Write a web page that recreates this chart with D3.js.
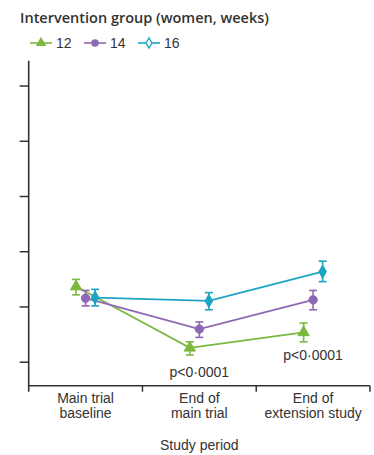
<!DOCTYPE html>
<html>
<head>
<meta charset="utf-8">
<script src="https://cdn.jsdelivr.net/npm/d3@7"></script>
<style>
  body { margin: 0; background: #fff; }
  svg { display: block; font-family: 'Liberation Sans', Arial, sans-serif; }
</style>
</head>
<body>
<svg id="vis_svg" width="374" height="455"></svg>
<script>
// study periods along the x axis
const periods = ['base', 'end', 'ext'];
const periodLabels = [['Main trial', 'baseline'], ['End of', 'main trial'], ['End of', 'extension study']];

// groups (weeks)
const groups = ['12', '14', '16'];
const colors = ['#7cb83e', '#8d68b4', '#1ba5c2'];

// means and error limits (arbitrary unlabeled units)
const mean12 = [23.6, 12.5, 15.3];
const lo12 = [22.1, 11.2, 13.6];
const hi12 = [24.9, 13.6, 17.0];

const mean14 = [21.5, 15.9, 21.2];
const lo14 = [20.1, 14.4, 19.4];
const hi14 = [22.9, 17.2, 22.9];

const mean16 = [21.6, 21.0, 26.3];
const lo16 = [20.1, 19.4, 24.5];
const hi16 = [23.1, 22.5, 28.2];

const yTicks = [10, 20, 30, 40, 50, 60];
const pLabels = [null, 'p<0·0001', 'p<0·0001'];

const series = [
  { key: '12', mean: mean12, lo: lo12, hi: hi12, shape: d3.symbolTriangle },
  { key: '14', mean: mean14, lo: lo14, hi: hi14, shape: d3.symbolCircle },
  { key: '16', mean: mean16, lo: lo16, hi: hi16, shape: d3.symbolDiamond },
];

const svg = d3.select('#vis_svg');
const margin = { left: 28.7, right: 4, top: 60.7, bottom: 69.3 };
const width = 374, height = 455;

const x = d3.scaleBand().domain(periods).range([margin.left, width - margin.right]).padding(0);
const dodge = d3.scalePoint().domain(groups).range([-9.5, 9.5]);
const y = d3.scaleLinear().domain([5.65, 64.5]).range([height - margin.bottom, margin.top]);

const color = d3.scaleOrdinal().domain(groups).range(colors);

// axes
const gy = svg.append('g').attr('transform', `translate(${margin.left},0)`)
  .call(d3.axisLeft(y).tickValues(yTicks).tickSize(9).tickFormat(''));
gy.select('.domain').remove();
gy.selectAll('line').attr('stroke', '#333').attr('stroke-width', 1.5);
svg.append('line')
  .attr('x1', margin.left).attr('x2', margin.left)
  .attr('y1', margin.top).attr('y2', height - margin.bottom + 6)
  .attr('stroke', '#333').attr('stroke-width', 1.6);

const tickX = periods.map((p) => x(p)).concat([x(periods[2]) + x.bandwidth()]);
svg.append('line')
  .attr('x1', margin.left).attr('x2', width - margin.right)
  .attr('y1', y.range()[0]).attr('y2', y.range()[0])
  .attr('stroke', '#333').attr('stroke-width', 1.6);
svg.selectAll('.xtick').data(tickX.slice(1)).enter().append('line')
  .attr('x1', (d) => d).attr('x2', (d) => d)
  .attr('y1', y.range()[0]).attr('y2', y.range()[0] + 6)
  .attr('stroke', '#333').attr('stroke-width', 1.5);

// x labels, two lines each
const fs = 14;
periods.forEach((p, i) => {
  periodLabels[i].forEach((s, j) => {
    svg.append('text')
      .attr('x', x(p) + x.bandwidth() / 2)
      .attr('y', 402.5 + j * 15.8)
      .attr('text-anchor', 'middle')
      .attr('font-size', fs)
      .attr('fill', '#333')
      .text(s);
  });
});
svg.append('text')
  .attr('x', x(periods[1]) + x.bandwidth() / 2)
  .attr('y', 450)
  .attr('text-anchor', 'middle')
  .attr('font-size', fs)
  .attr('fill', '#333')
  .text('Study period');

// lines, error bars, markers
const cx = (g, i) => x(periods[i]) + x.bandwidth() / 2 + dodge(g);
series.forEach((s) => {
  const c = color(s.key);
  const line = d3.line().x((d, i) => cx(s.key, i)).y((d) => y(d));
  svg.append('path').datum(s.mean)
    .attr('d', line).attr('fill', 'none').attr('stroke', c).attr('stroke-width', 1.8);
  const eb = svg.append('g');
  s.mean.forEach((m, i) => {
    const xx = cx(s.key, i);
    eb.append('line').attr('x1', xx).attr('x2', xx).attr('y1', y(s.lo[i])).attr('y2', y(s.hi[i]))
      .attr('stroke', c).attr('stroke-width', 1.6);
    [s.lo[i], s.hi[i]].forEach((v) => {
      eb.append('line').attr('x1', xx - 4).attr('x2', xx + 4).attr('y1', y(v)).attr('y2', y(v))
        .attr('stroke', c).attr('stroke-width', 1.6);
    });
  });
  svg.selectAll(null).data(s.mean).enter().append('path')
    .attr('transform', (d, i) => `translate(${cx(s.key, i)},${y(d)})`)
    .attr('d', d3.symbol().type(s.shape).size(s.key === '16' ? 50 : 55))
    .attr('fill', c)
    .attr('stroke', c).attr('stroke-width', 1);
});

// p-value annotations
svg.append('text').attr('x', x(periods[1]) + x.bandwidth() / 2).attr('y', 377)
  .attr('text-anchor', 'middle').attr('font-size', fs).attr('fill', '#333').text(pLabels[1]);
svg.append('text').attr('x', x(periods[2]) + x.bandwidth() / 2).attr('y', 360)
  .attr('text-anchor', 'middle').attr('font-size', fs).attr('fill', '#333').text(pLabels[2]);

// legend
svg.append('text').attr('x', 20).attr('y', 23).attr('font-size', 14.5)
  .attr('font-family', "'Open Sans', sans-serif").attr('font-weight', 600)
  .attr('fill', '#333').text('Intervention group (women, weeks)');
const lg = svg.append('g').selectAll('g').data(series).enter().append('g')
  .attr('transform', (d, i) => `translate(${30 + i * 54},43)`);
lg.append('line').attr('x1', 0).attr('x2', 22).attr('stroke', (d) => color(d.key)).attr('stroke-width', 1.6);
lg.append('path').attr('transform', 'translate(11,0)')
  .attr('d', (d) => d3.symbol().type(d.shape).size(30)())
  .attr('fill', (d) => (d.key === '16' ? '#fff' : color(d.key)))
  .attr('stroke', (d) => color(d.key)).attr('stroke-width', 1.3);
lg.append('text').attr('x', 26).attr('y', 5).attr('font-size', 14).attr('fill', '#333')
  .text((d) => d.key);
</script>
</body>
</html>
